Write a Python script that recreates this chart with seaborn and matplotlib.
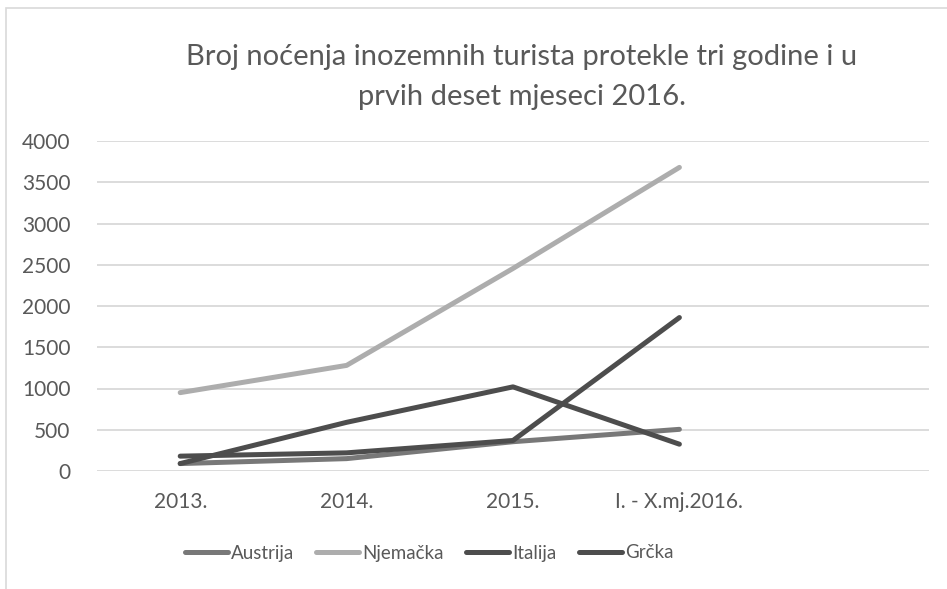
import matplotlib
matplotlib.use("Agg")
import matplotlib.pyplot as plt
import seaborn as sns
import pandas as pd
from matplotlib.patches import Rectangle

categories = ["2013.", "2014.", "2015.", "I. - X.mj.2016."]
extra_slot = [""]
austrija = [90, 150, 355, 505]
njemacka = [950, 1280, 2455, 3680]
italija = [90, 590, 1020, 325]
grcka = [180, 220, 370, 1860]
series_names = ["Austrija", "Njemačka", "Italija", "Grčka"]
series_values = [austrija, njemacka, italija, grcka]
colors = ["#787878", "#adadad", "#4d4d4d", "#4d4d4d"]

rows = []
for name, vals in zip(series_names, series_values):
    for i, v in enumerate(vals):
        rows.append({"pos": i, "kategorija": categories[i], "zemlja": name, "vrijednost": v})
df = pd.DataFrame(rows)

sns.set_theme(style="white")
plt.rcParams["font.family"] = ["Lato", "DejaVu Sans"]

fig = plt.figure(figsize=(9.47, 5.89), dpi=100)
W, H = 947, 589
ax = fig.add_axes([97 / W, 1 - 471 / H, (929 - 97) / W, (471 - 141) / H])

# chart border
fig.patches.append(Rectangle((6 / W, -0.05), 1.1, (1 - 8 / H) + 0.05, transform=fig.transFigure,
                             fill=False, edgecolor="#d9d9d9", linewidth=1.2))

sns.lineplot(data=df, x="pos", y="vrijednost", hue="zemlja", hue_order=series_names,
             palette=dict(zip(series_names, colors)), linewidth=3.6, ax=ax,
             solid_capstyle="round", legend=True)

ticklabels = categories + extra_slot
ax.set_xlim(-0.5, len(ticklabels) - 0.5)
ax.set_xticks(range(len(ticklabels)))
ax.set_xticklabels(ticklabels)
ax.set_ylim(0, 4000)
ax.set_yticks(range(0, 4001, 500))
ax.yaxis.grid(True, color="#d9d9d9", linewidth=1.3)
ax.set_axisbelow(True)
for s in ax.spines.values():
    s.set_visible(False)
ax.set_xlabel("")
ax.set_ylabel("")
ax.tick_params(axis="x", length=0, pad=15, labelsize=15, labelcolor="#595959")
ax.tick_params(axis="y", length=0, pad=19, labelsize=15, labelcolor="#595959")

handles, labels = ax.get_legend_handles_labels()
for h in handles:
    h.set_solid_capstyle("round")
    h.set_linewidth(3.6)
ax.get_legend().remove()
fig.legend(handles, labels, loc="center", bbox_to_anchor=(429 / W, 1 - 553 / H), ncol=4,
           frameon=False, fontsize=13.5, handlelength=2.3, handletextpad=0.15,
           columnspacing=1.2, labelcolor="#595959")

fig.text(522 / W, 1 - 57 / H, "Broj noćenja inozemnih turista protekle tri godine i u",
         ha="center", va="center", fontsize=21, color="#595959")
fig.text(522 / W, 1 - 97 / H, "prvih deset mjeseci 2016.",
         ha="center", va="center", fontsize=21, color="#595959")

fig.savefig("out.png", dpi=100)
